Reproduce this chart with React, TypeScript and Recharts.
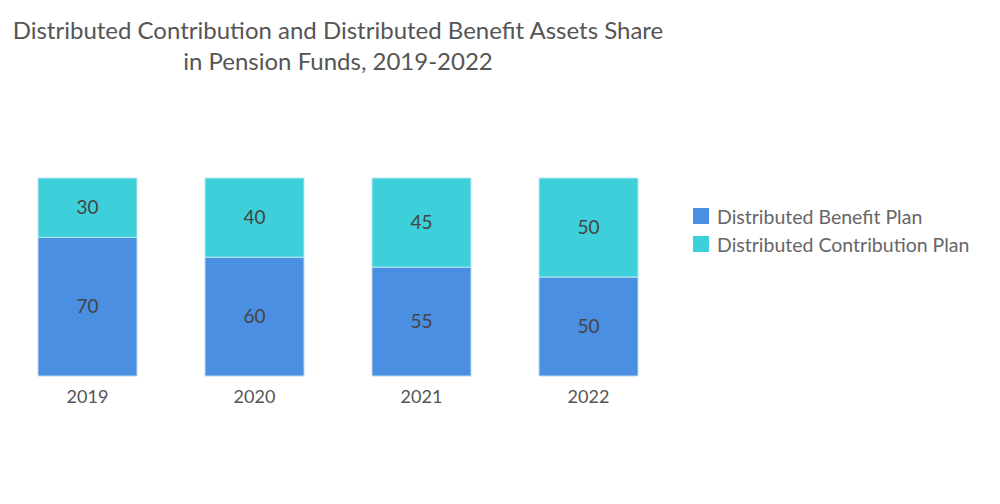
import { BarChart, Bar, XAxis, YAxis, Legend, LabelList } from "recharts";

const years = ["2019", "2020", "2021", "2022"];
const benefit = [70, 60, 55, 50];
const contribution = [30, 40, 45, 50];

const data = years.map((y, i) => ({
  year: y,
  benefit: benefit[i],
  contribution: contribution[i],
}));

const FONT = "Lato, 'Open Sans', sans-serif";

function LegendBox() {
  const items = [
    { label: "Distributed Benefit Plan", color: "#4a8fe2" },
    { label: "Distributed Contribution Plan", color: "#3ed0da" },
  ];
  return (
    <div style={{ fontFamily: FONT }}>
      {items.map((it) => (
        <div key={it.label} style={{ display: "flex", alignItems: "center", height: 28 }}>
          <span style={{ width: 16, height: 16, background: it.color, marginRight: 8 }} />
          <span style={{ fontSize: 19.5, color: "#666" }}>{it.label}</span>
        </div>
      ))}
    </div>
  );
}

export default function App() {
  return (
    <div style={{ position: "absolute", left: 0, top: 0, width: 1000, height: 504, background: "#fff" }}>
      <div
        style={{
          position: "absolute",
          left: 0,
          width: 676,
          top: 14,
          textAlign: "center",
          fontFamily: FONT,
          fontSize: 24,
          lineHeight: "31px",
          color: "#555",
        }}
      >
        Distributed Contribution and Distributed Benefit Assets Share
        <br />
        in Pension Funds, 2019-2022
      </div>
      <BarChart
        width={1000}
        height={504}
        data={data}
        margin={{ top: 178, right: 328, bottom: 42, left: 4 }}
      >
        <XAxis
          dataKey="year"
          axisLine={false}
          tickLine={false}
          tick={{ fontSize: 18, fill: "#555", fontFamily: FONT }}
          tickMargin={8}
          height={30}
        />
        <YAxis hide domain={[0, 100]} />
        <Legend
          content={() => <LegendBox />}
          wrapperStyle={{ position: "absolute", left: 693, top: 202, width: 300 }}
        />
        <Bar dataKey="benefit" stackId="a" fill="#4a8fe2" stroke="#b9dcf2" strokeWidth={1} barSize={99} isAnimationActive={false}>
          <LabelList dataKey="benefit" position="center" style={{ fontSize: 19, fill: "#444", fontFamily: FONT }} />
        </Bar>
        <Bar dataKey="contribution" stackId="a" fill="#3ed0da" stroke="#b9e8ef" strokeWidth={1} barSize={99} isAnimationActive={false}>
          <LabelList dataKey="contribution" position="center" style={{ fontSize: 19, fill: "#444", fontFamily: FONT }} />
        </Bar>
      </BarChart>
    </div>
  );
}
